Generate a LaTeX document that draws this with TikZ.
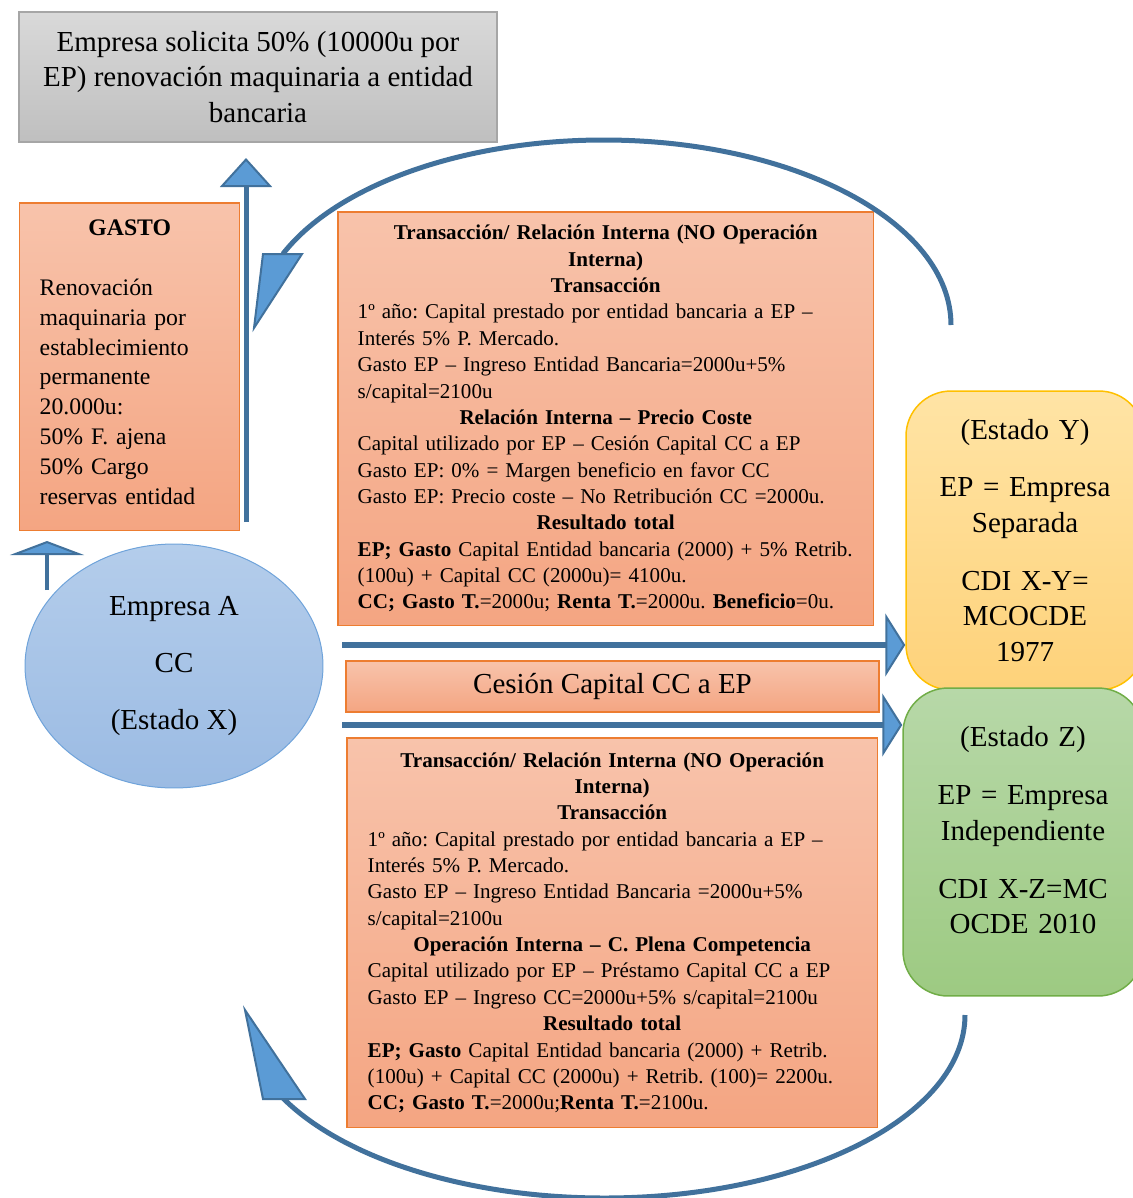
\documentclass[tikz,border=0pt]{standalone}
\usepackage{fontspec}
\setmainfont{Liberation Serif}
\usetikzlibrary{positioning, shapes.geometric, arrows.meta}
\definecolor{grayTop}{HTML}{D9D9D9}
\definecolor{grayBot}{HTML}{BFBFBF}
\definecolor{grayEdge}{HTML}{A6A6A6}
\definecolor{salmonTop}{HTML}{F8C3AB}
\definecolor{salmonBot}{HTML}{F4A582}
\definecolor{salmonEdge}{HTML}{ED7D31}
\definecolor{blueTop}{HTML}{B4CDEB}
\definecolor{blueBot}{HTML}{9BBBE3}
\definecolor{blueEdge}{HTML}{6FA3DA}
\definecolor{yellowTop}{HTML}{FFE4A5}
\definecolor{yellowBot}{HTML}{FED27A}
\definecolor{yellowEdge}{HTML}{FFC000}
\definecolor{greenTop}{HTML}{B7D8A8}
\definecolor{greenBot}{HTML}{9DCA82}
\definecolor{greenEdge}{HTML}{70AD47}
\definecolor{arrLine}{HTML}{41719C}
\definecolor{headFill}{HTML}{5B9BD5}
\newcommand{\txtsmall}{\frenchspacing\fontsize{12}{15}\selectfont}
\newcommand{\txtmid}{\frenchspacing\fontsize{13.5}{17}\selectfont}
\newcommand{\txtbig}{\frenchspacing\fontsize{16.5}{20.4}\selectfont}
\tikzset{
x=0.02cm, y=-0.02cm, % one unit is one pixel of the original, y grows downwards
every node/.style={inner sep=0pt}, % boxes get their size from minimum width/height
request/.style={draw=grayEdge, line width=0.03cm, top color=grayTop, bottom color=grayBot, align=center, font=\txtbig}, % grey request box
note/.style={draw=salmonEdge, line width=0.03cm, top color=salmonTop, bottom color=salmonBot}, % orange boxes
firm/.style={ellipse, draw=blueEdge, line width=0.02cm, top color=blueTop, bottom color=blueBot, align=center}, % the company
stateY/.style={draw=yellowEdge, line width=0.03cm, rounded corners=0.9cm, top color=yellowTop, bottom color=yellowBot, align=center, font=\txtbig, text width=4cm},
stateZ/.style={draw=greenEdge, line width=0.03cm, rounded corners=0.9cm, top color=greenTop, bottom color=greenBot, align=center, font=\txtbig, text width=4cm},
shaft/.style={draw=arrLine, line width=0.1cm}, % straight blue arrows
arcline/.style={draw=arrLine, line width=0.1cm}, % the two big arcs
headtri/.style={draw=arrLine, line width=0.04cm, fill=headFill, line join=miter}, % arc arrow heads
tipUp/.style={-{Triangle[width=1.04cm, length=0.58cm, line width=0.04cm, fill=headFill]}},
tipFlat/.style={-{Triangle[width=1.48cm, length=0.28cm, line width=0.04cm, fill=headFill]}},
tipSide/.style={-{Triangle[width=1.26cm, length=0.4cm, line width=0.04cm, fill=headFill]}},
}
\begin{document}
\begin{tikzpicture}
\useasboundingbox (0,0) rectangle (1133,1198);

\node[request, minimum width=9.56cm, minimum height=2.6cm] (loan) at (258,77)
  {Empresa solicita 50\% (10000u por\\EP) renovación maquinaria a entidad\\bancaria};

\node[note, anchor=north west, text width=3.6cm, inner xsep=0.4cm, minimum height=6.56cm, align=left, font=\txtmid] (gasto) at (19,202) {%
{\centering\bfseries GASTO\par}
\vspace{17pt}
Renovación\\
maquinaria por\\
establecimiento\\
permanente\\
20.000u:\\
50\% F. ajena\\
50\% Cargo\\
reservas entidad\par\vspace{0.18cm}\hrule height 0pt};

\node[firm, minimum width=5.96cm, minimum height=4.88cm, font={\fontsize{16.5}{32.6}\selectfont}] (empA) at (174,666)
  {Empresa A\\CC\\(Estado X)};

\node[note, anchor=north west, text width=9.92cm, inner xsep=0.4cm, minimum height=8.28cm, align=left, font=\txtsmall] (transY) at (337,211) {%
{\centering\bfseries Transacción/ Relación Interna (NO Operación\\Interna)\\Transacción\par}
1º año: Capital prestado por entidad bancaria a EP –\\
Interés 5\% P. Mercado.\\
Gasto EP – Ingreso Entidad Bancaria=2000u+5\%\\
s/capital=2100u\par
{\centering\bfseries Relación Interna – Precio Coste\par}
Capital utilizado por EP – Cesión Capital CC a EP\\
Gasto EP: 0\% = Margen beneficio en favor CC\\
Gasto EP: Precio coste – No Retribución CC =2000u.\par
{\centering\bfseries Resultado total\par}
\textbf{EP; Gasto} Capital Entidad bancaria (2000) + 5\% Retrib.\\
(100u) + Capital CC (2000u)= 4100u.\\
\textbf{CC; Gasto T.}=2000u; \textbf{Renta T.}=2000u. \textbf{Beneficio}=0u.};

\node[note, minimum width=10.66cm, minimum height=1.02cm, font=\txtbig] (cesion) at (612.5,686.5) {Cesión Capital CC a EP};

\node[note, anchor=north west, text width=9.78cm, inner xsep=0.42cm, minimum height=7.8cm, align=left, font=\txtsmall] (transZ) at (346,737) {%
{\centering\bfseries Transacción/ Relación Interna (NO Operación\\Interna)\\Transacción\par}
1º año: Capital prestado por entidad bancaria a EP –\\
Interés 5\% P. Mercado.\\
Gasto EP – Ingreso Entidad Bancaria =2000u+5\%\\
s/capital=2100u\par
{\centering\bfseries Operación Interna – C. Plena Competencia\par}
Capital utilizado por EP – Préstamo Capital CC a EP\\
Gasto EP – Ingreso CC=2000u+5\% s/capital=2100u\par
{\centering\bfseries Resultado total\par}
\textbf{EP; Gasto} Capital Entidad bancaria (2000) + Retrib.\\
(100u) + Capital CC (2000u) + Retrib. (100)= 2200u.\\
\textbf{CC; Gasto T.}=2000u;\textbf{Renta T.}=2100u.};

\node[stateY, minimum width=4.76cm, minimum height=5.98cm] (estY) at (1025,540.5)
  {(Estado Y)\\[12.4pt]EP = Empresa\\Separada\\[12.4pt]CDI X-Y=\\MCOCDE\\1977};
\node[stateZ, minimum width=4.8cm, minimum height=6.16cm] (estZ) at (1023,842)
  {(Estado Z)\\[12.4pt]EP = Empresa\\Independiente\\[12.4pt]CDI X-Z=MC\\OCDE 2010\par\vspace{0.46cm}\hrule height 0pt};

% straight arrows
\coordinate (upFoot) at (246,522);
\coordinate (upTip) at (246,158);
\draw[shaft, tipUp] (upFoot) -- (upTip);
\coordinate (ccFoot) at (47,590);
\coordinate (ccTip) at (47,541);
\draw[shaft, line width=0.09cm, tipFlat] (ccFoot) -- (ccTip);
\coordinate (sepFoot) at (342,645);
\coordinate (indFoot) at (342,725);
\draw[shaft, line width=0.11cm, tipSide] (sepFoot) -- (sepFoot -| estY.west);
\draw[shaft, line width=0.11cm, tipSide] (indFoot) -- (indFoot -| estZ.west);

% arcs back to the company
\coordinate (arcTopR) at (951,325);
\coordinate (arcBotR) at (965,1015);
\coordinate (tipTop) at (254,328);
\coordinate (tipBot) at (245,1010);
\draw[arcline] (arcTopR) arc[start angle=0, end angle=-157.4, x radius=347.4, y radius=185];
\draw[headtri] (tipTop) -- ++(9,-74) -- ++(39,0) -- cycle;
\draw[arcline] (arcBotR) arc[start angle=0, end angle=153, x radius=360.7, y radius=183];
\draw[headtri] (tipBot) -- ++(18,89) -- ++(42,0) -- cycle;
\end{tikzpicture}
\end{document}
